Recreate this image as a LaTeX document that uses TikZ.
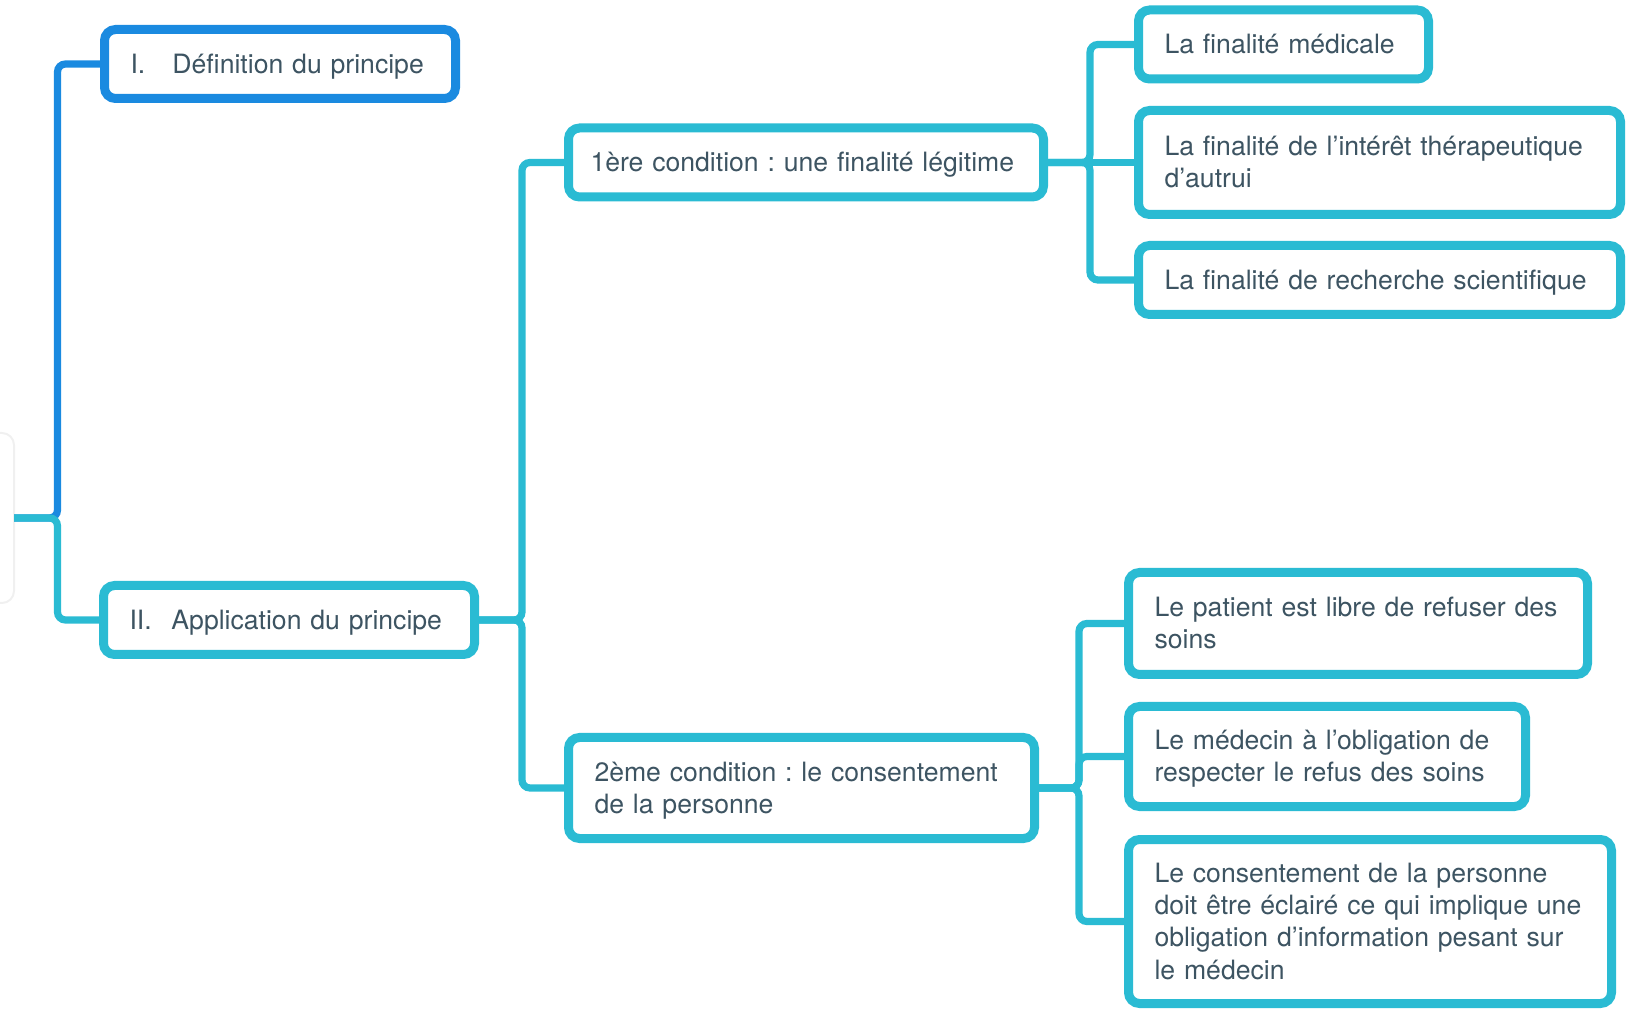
\documentclass[tikz,border=0pt]{standalone}
\usepackage{fontspec}
\setmainfont{TeX Gyre Heros}
\usetikzlibrary{positioning}
\definecolor{mapblue}{HTML}{1A8AE0}
\definecolor{mapcyan}{HTML}{2ABBD3}
\definecolor{maptext}{HTML}{3D5462}
\newcommand{\topicstrut}{\rule[-3.3pt]{0pt}{15.8pt}}

\begin{document}
\frenchspacing
\begin{tikzpicture}[
    x=0.5pt, y=-0.5pt,
    every node/.style={font=\fontsize{13.3}{16.15}\selectfont, text=maptext},
    topic/.style={rectangle, draw=mapcyan, fill=white, line width=4.5pt, rounded corners=5.5pt, inner xsep=13pt, inner ysep=4pt, outer sep=0pt, minimum height=34.5pt, align=left, text width=#1,
        execute at begin node=\topicstrut, execute at end node=\topicstrut},
    link/.style={draw=mapcyan, line width=3.6pt, rounded corners=4pt},
    bluelink/.style={link, draw=mapblue}
]

\useasboundingbox (0,0) rectangle (1635,1010);
\clip (0,0) rectangle (1635,1010);

% Root (mostly off the page)
\node[draw=black!6, line width=1pt, rounded corners=6pt, minimum width=57pt, minimum height=85pt, outer sep=0pt] (root) at (-43,518) {};

% Main parts
\node[topic=149.5pt, draw=mapblue] (def) at (280,64) {\makebox[21pt][l]{I.}Définition du principe};
\node[topic=159.5pt] (app) at (289,620) {\makebox[21pt][l]{II.}Application du principe};

% Conditions
\node[topic=215.5pt, inner xsep=11pt] (cond1) at (806,162.5) {1ère condition : une finalité légitime};
\node[topic=207pt, minimum height=50.5pt] (cond2) at (801.5,788) {2ème condition : le consentement\\de la personne};

% Finalities
\node[topic=119pt] (med) at (1283.5,44.5) {La finalité médicale};
\node[topic=215pt, minimum height=52pt] (therap) at (1379.5,162.5) {La finalité de l’intérêt thérapeutique\\d’autrui};
\node[topic=215pt] (rech) at (1379.5,280) {La finalité de recherche scientifique};

% Consent
\node[topic=203.5pt, minimum height=51pt] (refus) at (1358,623.5) {Le patient est libre de refuser des\\soins};
\node[topic=172.5pt, minimum height=50pt] (oblig) at (1327,756.5) {Le médecin à l’obligation de\\respecter le refus des soins};
\node[topic=215.5pt, minimum height=82pt] (info) at (1370,921.5) {Le consentement de la personne\\doit être éclairé ce qui implique une\\obligation d’information pesant sur\\le médecin};

% Root links
\draw[bluelink] (root.east) -- ++(43.5,0) |- (def.west);
\draw[link] (root.east) -- ++(43.5,0) |- (app.west);

% Application links
\draw[link] (app.east) -- ++(47.5,0) |- (cond1.west);
\draw[link] (app.east) -- ++(47.5,0) |- (cond2.west);

% First condition links
\draw[link] (cond1.east) -- ++(46.5,0) |- (med.west);
\draw[link] (cond1.east) -- (therap.west);
\draw[link] (cond1.east) -- ++(46.5,0) |- (rech.west);

% Second condition links
\draw[link] (cond2.east) -- ++(44.5,0) |- (refus.west);
\draw[link] (cond2.east) -- ++(44.5,0) |- (oblig.west);
\draw[link] (cond2.east) -- ++(44.5,0) |- (info.west);

\end{tikzpicture}
\end{document}
